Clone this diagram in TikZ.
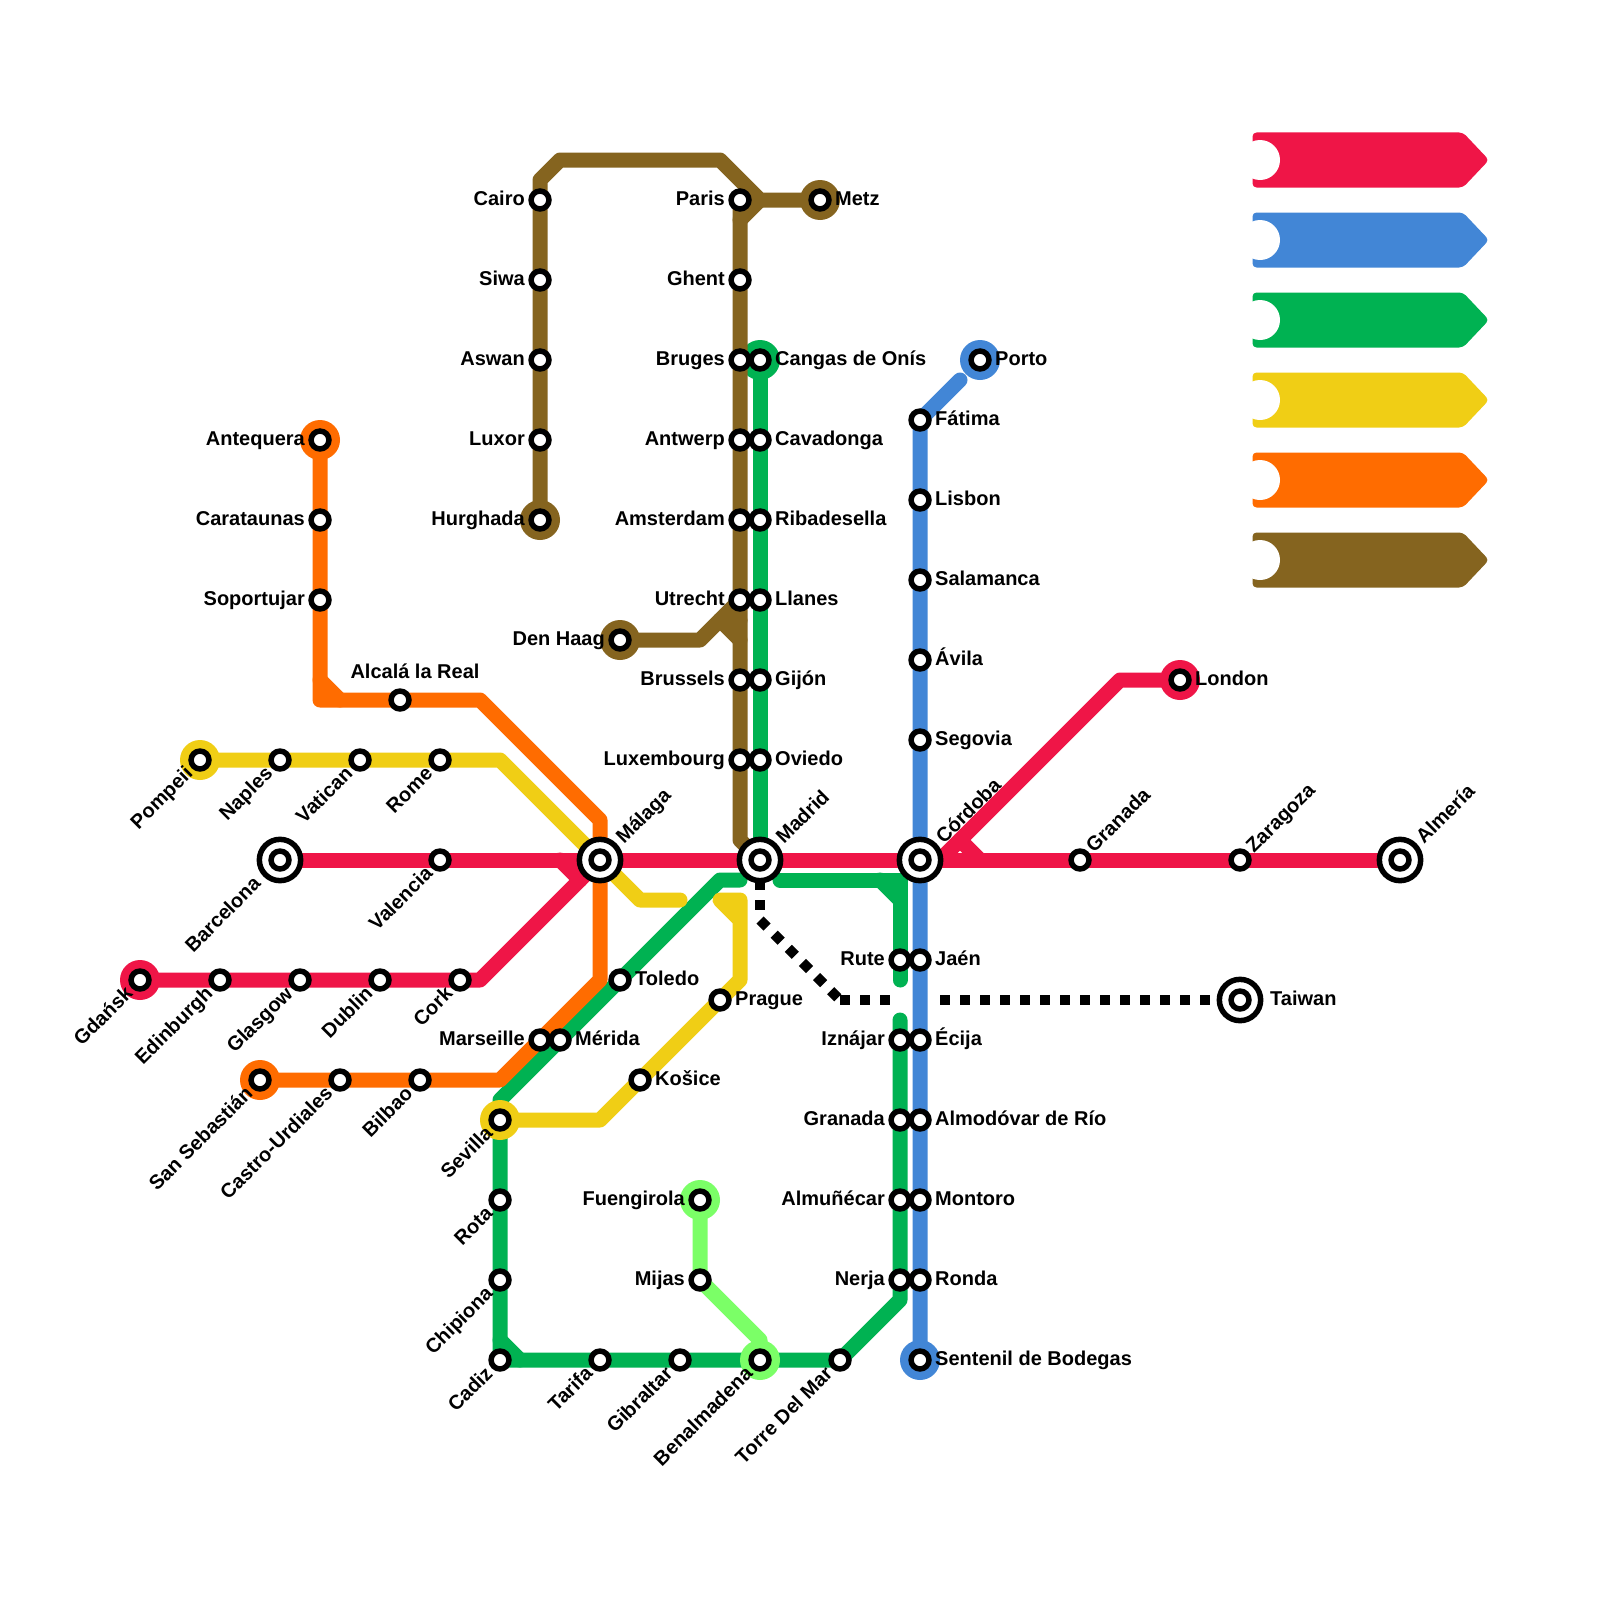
\documentclass[tikz,border=0pt]{standalone}
\usepackage{fontspec}
\setmainfont{Liberation Sans}
\usetikzlibrary{calc}
\definecolor{cred}{HTML}{EF1547}
\definecolor{cblue}{HTML}{4286D6}
\definecolor{cgreen}{HTML}{00B252}
\definecolor{cyellow}{HTML}{F0CE15}
\definecolor{corange}{HTML}{FF6C00}
\definecolor{cbrown}{HTML}{85641F}
\definecolor{clime}{HTML}{7BFF67}
\tikzset{
  metro/.style={line width=15pt,line cap=round,line join=round},
  stn/.style={circle,draw=black,fill=white,line width=5.5pt,minimum size=17.9pt,inner sep=0pt,outer sep=0pt},
  hub/.style={circle,draw=black,fill=white,line width=5.5pt,minimum size=41.3pt,inner sep=0pt,outer sep=0pt},
  lab/.style={font=\fontsize{20}{24}\selectfont\bfseries,inner sep=0pt,text=black,text height=15pt,text depth=4pt},
  dotline/.style={line width=10pt,draw=black,dash pattern=on 10pt off 10pt,line cap=butt,line join=miter}
}
% station + label helpers
\newcommand{\labR}[2]{\node[lab,anchor=west] (l#1) at ([shift={(15,-0.5)}]#1) {#2};}
\newcommand{\labL}[2]{\node[lab,anchor=east] (l#1) at ([shift={(-15,-0.5)}]#1) {#2};}
\newcommand{\labD}[2]{\node[lab,anchor=east,rotate=45] (l#1) at ([shift={(-10,11)}]#1) {#2};}
\newcommand{\labU}[3]{\node[lab,anchor=west,rotate=45] (l#1) at ([shift={(#2)}]#1) {#3};}
\newcommand{\sta}[1]{\node[stn] (s#1) at (#1) {};}
\begin{document}
\begin{tikzpicture}[x=1pt,y=-1pt]
\useasboundingbox (0,0) rectangle (1600,1600);
\fill[white] (0,0) rectangle (1600,1600);
% stations
\foreach \n/\x/\y in {
 barcelona/280/860,valencia/440/860,malaga/600/860,madrid/760/860,cordoba/920/860,granadaB/1080/860,zaragoza/1240/860,almeria/1400/860,
 gdansk/140/980,edinburgh/220/980,glasgow/300/980,dublin/380/980,cork/460/980,london/1180/680,
 porto/980/360,fatima/920/420,lisbon/920/500,salamanca/920/580,avila/920/660,segovia/920/740,jaen/920/960,ecija/920/1040,almodovar/920/1120,montoro/920/1200,ronda/920/1280,sentenil/920/1360,
 cangas/760/360,cavadonga/760/440,ribadesella/760/520,llanes/760/600,gijon/760/680,oviedo/760/760,
 toledo/620/980,merida/560/1040,sevilla/500/1120,rota/500/1200,chipiona/500/1280,cadiz/500/1360,tarifa/600/1360,gibraltar/680/1360,benalmadena/760/1360,torre/840/1360,nerja/900/1280,almunecar/900/1200,granadaA/900/1120,iznajar/900/1040,rute/900/960,
 pompeii/200/760,naples/280/760,vatican/360/760,rome/440/760,prague/720/1000,kosice/640/1080,
 antequera/320/440,carataunas/320/520,soportujar/320/600,alcala/400/700,marseille/540/1040,bilbao/420/1080,castro/340/1080,sansebastian/260/1080,
 hurghada/540/520,luxor/540/440,aswan/540/360,siwa/540/280,cairo/540/200,paris/740/200,metz/820/200,ghent/740/280,bruges/740/360,antwerp/740/440,amsterdam/740/520,utrecht/740/600,brussels/740/680,luxembourg/740/760,denhaag/620/640,
 fuengirola/700/1200,mijas/700/1280,taiwan/1240/1000,
 ra/480/980,rb/580/880,rc/560/860,rd/1120/680,re/960/840,rf/980/860,rg/940/860,
 ba/960/380,
 ga/740/880,gb/720/880,gc/500/1100,gd/500/1340,ge/520/1360,gf/900/1300,gg/900/1020,gh/780/880,gi/900/880,gj/880/880,gk/900/900,gl/900/980,
 ya/500/760,yb/640/900,yc/680/900,yd/720/900,ye/740/900,yf/740/980,yg/740/920,yh/600/1120,
 oa/320/680,ob/340/700,oc/320/700,od/480/700,oe/600/820,of/600/980,og/500/1080,
 na/540/180,nb/560/160,nc/720/160,nd/760/200,ne/740/220,nf/740/840,ng/700/640,nh/720/620,ni/740/640,nj/740/620,
 la/760/1340,
 da/760/920,db/840/1000,dc/890/1000,dd/940/1000}
 {\coordinate (\n) at (\x,\y);}
% blue
\draw[metro,cblue] (ba) -- (fatima) -- (sentenil);
\fill[cblue] (porto) circle (20);
\fill[cblue] (sentenil) circle (20);
% green
\draw[metro,cgreen] (cangas) -- (madrid);
\draw[metro,cgreen] (ga) -- (gb) -- (gc) -- (cadiz) -- (torre) -- (gf) -- (gg);
\draw[metro,cgreen] (gd) -- (ge);
\draw[metro,cgreen] (gh) -- (gi) -- (gl);
\draw[metro,cgreen] (gj) -- (gk);
\fill[cgreen] (cangas) circle (20);
% yellow
\draw[metro,cyellow] (pompeii) -- (ya) -- (yb) -- (yc);
\draw[metro,cyellow] (yg) -- (yd) -- (ye) -- (yf) -- (yh) -- (sevilla);
\fill[cyellow] (pompeii) circle (20);
\fill[cyellow] (sevilla) circle (20);
% orange
\draw[metro,corange] (antequera) -- (oc) -- (od) -- (oe) -- (of) -- (og) -- (sansebastian);
\draw[metro,corange] (oa) -- (ob);
\fill[corange] (antequera) circle (20);
\fill[corange] (sansebastian) circle (20);
% brown
\draw[metro,cbrown] (hurghada) -- (na) -- (nb) -- (nc) -- (nd) -- (metz);
\draw[metro,cbrown] (paris) -- (nf) -- (madrid);
\draw[metro,cbrown] (ne) -- (nd);
\draw[metro,cbrown] (denhaag) -- (ng) -- (utrecht);
\draw[metro,cbrown] (nh) -- (ni);
\draw[metro,cbrown] (nh) -- (nj);
\fill[cbrown] (hurghada) circle (20);
\fill[cbrown] (metz) circle (20);
\fill[cbrown] (denhaag) circle (20);
% lime
\draw[metro,clime] (fuengirola) -- (mijas) -- (la) -- (benalmadena);
\fill[clime] (fuengirola) circle (20);
\fill[clime] (benalmadena) circle (20);
% red
\draw[metro,cred] (barcelona) -- (almeria);
\draw[metro,cred] (gdansk) -- (ra) -- (malaga);
\draw[metro,cred] (rb) -- (rc);
\draw[metro,cred] (london) -- (rd) -- (rg);
\draw[metro,cred] (re) -- (rf);
\fill[cred] (gdansk) circle (20);
\fill[cred] (london) circle (20);
% dotted
\draw[dotline] (madrid) -- (da);
\draw[dotline] (da) -- (db);
\draw[dotline] (db) -- (dc);
\draw[dotline] (dd) -- (taiwan);
% hubs
\foreach \n in {barcelona,malaga,madrid,cordoba,almeria,taiwan} {\node[hub] (h\n) at (\n) {};}
% small stations
\foreach \n in {barcelona,valencia,malaga,madrid,cordoba,granadaB,zaragoza,almeria,gdansk,edinburgh,glasgow,dublin,cork,london,porto,fatima,lisbon,salamanca,avila,segovia,jaen,ecija,almodovar,montoro,ronda,sentenil,cangas,cavadonga,ribadesella,llanes,gijon,oviedo,toledo,merida,sevilla,rota,chipiona,cadiz,tarifa,gibraltar,benalmadena,torre,nerja,almunecar,granadaA,iznajar,rute,pompeii,naples,vatican,rome,prague,kosice,antequera,carataunas,soportujar,alcala,marseille,bilbao,castro,sansebastian,hurghada,luxor,aswan,siwa,cairo,paris,metz,ghent,bruges,antwerp,amsterdam,utrecht,brussels,luxembourg,denhaag,fuengirola,mijas,taiwan}
 {\sta{\n}}
% labels right
\labR{fatima}{Fátima}\labR{lisbon}{Lisbon}\labR{salamanca}{Salamanca}\labR{avila}{Ávila}\labR{segovia}{Segovia}
\labR{jaen}{Jaén}\labR{ecija}{Écija}\labR{almodovar}{Almodóvar de Río}\labR{montoro}{Montoro}\labR{ronda}{Ronda}\labR{sentenil}{Sentenil de Bodegas}
\labR{porto}{Porto}\labR{london}{London}\labR{metz}{Metz}
\labR{cangas}{Cangas de Onís}\labR{cavadonga}{Cavadonga}\labR{ribadesella}{Ribadesella}\labR{llanes}{Llanes}\labR{gijon}{Gijón}\labR{oviedo}{Oviedo}
\labR{toledo}{Toledo}\labR{merida}{Mérida}\labR{prague}{Prague}\labR{kosice}{Košice}
\node[lab,anchor=west] (ltaiwan) at ([shift={(30,-0.5)}]taiwan) {Taiwan};
% labels left
\labL{cairo}{Cairo}\labL{siwa}{Siwa}\labL{aswan}{Aswan}\labL{luxor}{Luxor}\labL{hurghada}{Hurghada}
\labL{paris}{Paris}\labL{ghent}{Ghent}\labL{bruges}{Bruges}\labL{antwerp}{Antwerp}\labL{amsterdam}{Amsterdam}\labL{utrecht}{Utrecht}\labL{brussels}{Brussels}\labL{luxembourg}{Luxembourg}\labL{denhaag}{Den Haag}
\labL{antequera}{Antequera}\labL{carataunas}{Carataunas}\labL{soportujar}{Soportujar}\labL{marseille}{Marseille}
\labL{rute}{Rute}\labL{iznajar}{Iznájar}\labL{granadaA}{Granada}\labL{almunecar}{Almuñécar}\labL{nerja}{Nerja}\labL{fuengirola}{Fuengirola}\labL{mijas}{Mijas}
% labels rotated, down-left
\labD{pompeii}{Pompeii}\labD{naples}{Naples}\labD{vatican}{Vatican}\labD{rome}{Rome}\labD{valencia}{Valencia}
\labD{gdansk}{Gdańsk}\labD{edinburgh}{Edinburgh}\labD{glasgow}{Glasgow}\labD{dublin}{Dublin}\labD{cork}{Cork}
\labD{sansebastian}{San Sebastián}\labD{castro}{Castro-Urdiales}\labD{bilbao}{Bilbao}
\labD{sevilla}{Sevilla}\labD{rota}{Rota}\labD{chipiona}{Chipiona}\labD{cadiz}{Cadiz}\labD{tarifa}{Tarifa}\labD{gibraltar}{Gibraltar}\labD{benalmadena}{Benalmadena}\labD{torre}{Torre Del Mar}
\node[lab,anchor=east,rotate=45] (lbarcelona) at ([shift={(-22,21)}]barcelona) {Barcelona};
% labels rotated, up-right
\labU{malaga}{20,-19}{Málaga}\labU{madrid}{20,-19}{Madrid}\labU{cordoba}{20,-19}{Córdoba}\labU{almeria}{20,-19}{Almería}
\labU{granadaB}{10,-10}{Granada}\labU{zaragoza}{10,-10}{Zaragoza}
\node[lab] (lalcala) at (415,673) {Alcalá la Real};
% legend
\foreach \c/\y in {cred/160,cblue/240,cgreen/320,cyellow/400,corange/480,cbrown/560}{
  \fill[\c,rounded corners=4pt] (1252.5,\y-27.5) -- (1463,\y-27.5) -- (1489,\y) -- (1463,\y+27.5) -- (1252.5,\y+27.5) -- cycle;
  \fill[white] (1260,\y) circle (20);
}
\end{tikzpicture}
\end{document}
